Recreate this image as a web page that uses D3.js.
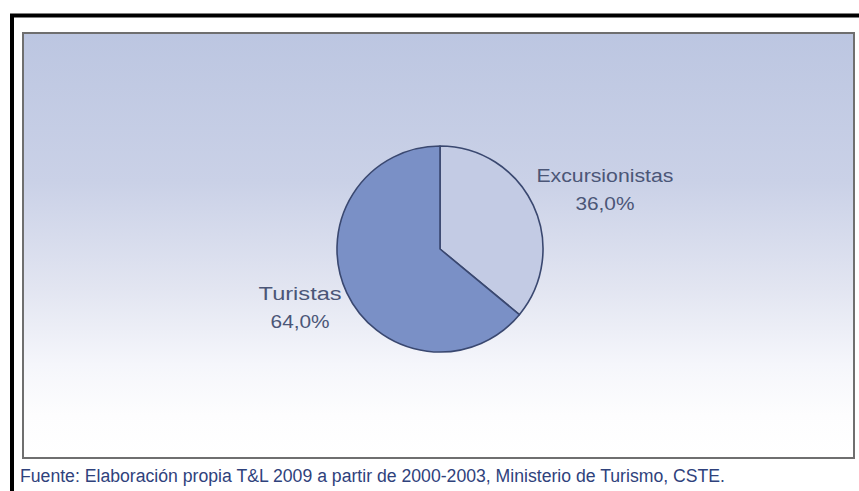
<!DOCTYPE html>
<html>
<head>
<meta charset="utf-8">
<script src="https://cdn.jsdelivr.net/npm/d3@7"></script>
<style>
  html, body { margin: 0; padding: 0; background: #ffffff; }
  svg { display: block; }
</style>
</head>
<body>
<svg id="chart" width="859" height="491"></svg>
<script>
// Distribución de visitantes
const categories = ["Excursionistas", "Turistas"];
const values = [36.0, 64.0];
const valueLabels = ["36,0%", "64,0%"];
const sourceNote = "Fuente: Elaboración propia T&L 2009 a partir de 2000-2003, Ministerio de Turismo, CSTE.";

const data = categories.map((c, i) => ({ name: c, value: values[i], label: valueLabels[i] }));

const svg = d3.select("#chart");
const W = 859, H = 491;

// Background gradient for the plot panel
const defs = svg.append("defs");
const grad = defs.append("linearGradient")
  .attr("id", "panelGrad").attr("x1", 0).attr("y1", 0).attr("x2", 0).attr("y2", 1);
[
  [0, "#bcc6e1"], [0.35, "#cad1e7"], [0.6, "#e2e5f1"], [0.78, "#f5f6fb"], [0.9, "#fdfdfe"], [1, "#ffffff"]
].forEach(([o, c]) => grad.append("stop").attr("offset", o).attr("stop-color", c));

// Outer black frame (open on the right/bottom)
svg.append("path")
  .attr("d", `M12,${H} L12,15.5 L${W},15.5`)
  .attr("fill", "none").attr("stroke", "#000").attr("stroke-width", 4);

// Plot panel
svg.append("rect")
  .attr("x", 23).attr("y", 33).attr("width", 831).attr("height", 425)
  .attr("fill", "url(#panelGrad)")
  .attr("stroke", "#6f6f6f").attr("stroke-width", 2);

// Pie
const cx = 440, cy = 249, r = 103;
const color = d3.scaleOrdinal().domain(categories).range(["#c3cbe4", "#7a90c6"]);
const pie = d3.pie().value(d => d.value).sort(null);
const arc = d3.arc().innerRadius(0).outerRadius(r);
const arcs = pie(data);

const g = svg.append("g").attr("transform", `translate(${cx},${cy})`);
g.selectAll("path.slice")
  .data(arcs)
  .join("path")
  .attr("class", "slice")
  .attr("d", arc)
  .attr("fill", d => color(d.data.name))
  .attr("stroke", "#3a4870")
  .attr("stroke-width", 1.6)
  .attr("stroke-linejoin", "round");

// Labels placed outside the pie, nudged along each slice's bisector
const labelArc = d3.arc().innerRadius(r * 1.63).outerRadius(r * 1.63);
const labelColor = "#4b5677";
const labelNudge = { "Excursionistas": [13, 4.5], "Turistas": [12, -20.5] };
const nameWidth = { "Excursionistas": 137, "Turistas": 83 };
arcs.forEach(d => {
  const [lx, ly] = labelArc.centroid(d);
  const [dx, dy] = labelNudge[d.data.name];
  const x = lx + dx, y = ly + dy;
  const common = t => t
    .attr("x", x)
    .attr("text-anchor", "middle")
    .attr("font-family", "Liberation Sans, Arial, sans-serif")
    .attr("font-size", 18)
    .attr("lengthAdjust", "spacingAndGlyphs")
    .attr("fill", labelColor);
  common(g.append("text")).attr("y", y)
    .attr("textLength", nameWidth[d.data.name]).text(d.data.name);
  common(g.append("text")).attr("y", y + 28)
    .attr("textLength", 59).text(d.data.label);
});

// Source note
svg.append("text")
  .attr("x", 20).attr("y", 482)
  .attr("font-family", "Liberation Sans, Arial, sans-serif")
  .attr("font-size", 18)
  .attr("fill", "#2f427c")
  .attr("textLength", 705)
  .attr("lengthAdjust", "spacingAndGlyphs")
  .text(sourceNote);
</script>
</body>
</html>
